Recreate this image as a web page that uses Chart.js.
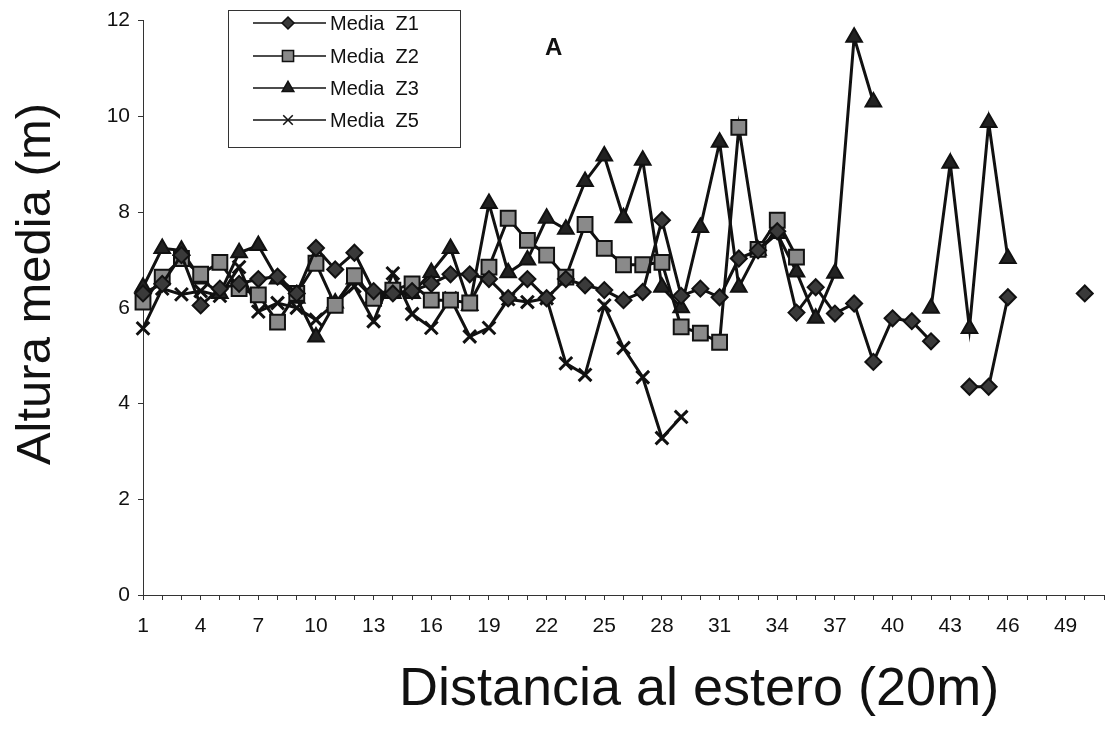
<!DOCTYPE html>
<html>
<head>
<meta charset="utf-8">
<script src="https://cdn.jsdelivr.net/npm/chart.js@4/dist/chart.umd.min.js"></script>
<style>
  body { margin: 0; background: #fff; }
  #wrap { width: 1118px; height: 730px; }
</style>
</head>
<body>
<div id="wrap"><canvas id="c" width="1118" height="730"></canvas></div>
<script>
// distancia al estero (categorias 1..51)
const categorias = [1,2,3,4,5,6,7,8,9,10,11,12,13,14,15,16,17,18,19,20,21,22,23,24,25,26,27,28,29,30,
  31,32,33,34,35,36,37,38,39,40,41,42,43,44,45,46,47,48,49,50,51];

const mediaZ1 = [6.3,6.5,7.1,6.05,6.4,6.5,6.6,6.65,6.3,7.25,6.8,7.15,6.35,6.3,6.35,6.5,6.7,6.7,6.6,6.2,
  6.6,6.2,6.6,6.47,6.37,6.16,6.33,7.83,6.25,6.4,6.22,7.03,7.2,7.6,5.9,6.43,5.88,6.09,4.87,5.78,
  5.72,5.3,null,4.35,4.35,6.22,null,null,null,6.3,null];
const mediaZ2 = [6.12,6.64,7.03,6.7,6.95,6.4,6.27,5.7,6.3,6.93,6.05,6.67,6.2,6.37,6.5,6.16,6.16,6.1,6.85,7.87,
  7.41,7.1,6.64,7.74,7.24,6.9,6.9,6.95,5.6,5.47,5.28,9.77,7.22,7.83,7.06];
const mediaZ3 = [6.43,7.24,7.2,6.6,6.3,7.15,7.3,6.6,6.2,5.39,6.1,6.6,6.2,6.3,6.3,6.74,7.24,6.05,8.18,6.73,
  7.0,7.87,7.64,8.64,9.17,7.88,9.08,6.43,6.0,7.68,9.46,6.43,7.2,7.55,6.75,5.78,6.72,11.65,10.3,null,
  null,5.99,9.02,5.57,9.87,7.03];
const mediaZ5 = [5.57,6.4,6.28,6.35,6.25,6.85,5.92,6.1,6.0,5.75,6.1,6.45,5.72,6.72,5.87,5.58,6.2,5.4,5.58,6.18,
  6.12,6.2,4.84,4.6,6.05,5.16,4.55,3.28,3.72];

const yTicks = [0,2,4,6,8,10,12];

const FONT = '"Liberation Sans", Arial, sans-serif';

function serie(label, data, style, radius, fill, bw) {
  return {
    label, data,
    borderColor: '#111', borderWidth: 3,
    pointStyle: style, pointRadius: radius, pointHoverRadius: radius,
    pointBackgroundColor: fill, pointBorderColor: '#111', pointBorderWidth: bw,
    spanGaps: false, tension: 0
  };
}

const datasets = [
  serie('Media  Z1', mediaZ1, 'rectRot', 8, '#3a3a3a', 2),
  serie('Media  Z2', mediaZ2, 'rect', 10.5, '#8a8a8a', 2),
  serie('Media  Z3', mediaZ3, 'triangle', 9, '#222', 2),
  serie('Media  Z5', mediaZ5, 'crossRot', 9, '#111', 3),
];

// legend box, "A" label and axis titles
const extras = {
  id: 'extras',
  afterDraw(chart) {
    const ctx = chart.ctx;
    ctx.save();
    ctx.strokeStyle = '#333';
    ctx.lineWidth = 1;
    ctx.strokeRect(228.5, 10.5, 232, 137);
    ctx.font = '20px ' + FONT;
    ctx.textBaseline = 'middle';
    const rows = [23, 56, 88, 120];
    chart.data.datasets.forEach((ds, i) => {
      const y = rows[i];
      ctx.strokeStyle = '#111';
      ctx.lineWidth = 1.5;
      ctx.beginPath();
      ctx.moveTo(253, y); ctx.lineTo(326, y);
      ctx.stroke();
      ctx.fillStyle = ds.pointBackgroundColor;
      ctx.strokeStyle = '#111';
      Chart.helpers.drawPoint(ctx, {
        pointStyle: ds.pointStyle, radius: ds.pointRadius * 0.75,
        rotation: 0, borderWidth: 1.5
      }, 288, y);
      ctx.fillStyle = '#111';
      ctx.fillText(ds.label, 330, y + 1);
    });
    ctx.font = 'bold 24px ' + FONT;
    ctx.fillText('A', 545, 48);
    ctx.textAlign = 'center';
    ctx.font = '54px ' + FONT;
    ctx.fillText('Distancia al estero (20m)', 699, 690);
    ctx.translate(36, 284);
    ctx.rotate(-Math.PI / 2);
    ctx.font = '49px ' + FONT;
    ctx.fillText('Altura media (m)', 0, 0);
    ctx.restore();
  }
};

new Chart(document.getElementById('c'), {
  type: 'line',
  data: { labels: categorias, datasets },
  plugins: [extras],
  options: {
    responsive: false,
    animation: false,
    layout: { padding: { top: 10, right: 4, bottom: 12, left: 0 } },
    plugins: { legend: { display: false }, tooltip: { enabled: false } },
    scales: {
      x: {
        type: 'category',
        offset: false,
        afterFit: s => { s.height = 123; },
        grid: { drawOnChartArea: false, tickLength: 5, color: '#333' },
        border: { color: '#333', width: 1 },
        ticks: {
          autoSkip: false, maxRotation: 0, padding: 14,
          color: '#111', font: { family: FONT, size: 21 },
          callback: (v, i) => (i % 3 === 0 && i < 49) ? categorias[i] : ''
        }
      },
      y: {
        min: 0, max: 12,
        afterFit: s => { s.width = 143; },
        afterBuildTicks: s => { s.ticks = yTicks.map(v => ({ value: v })); },
        grid: { drawOnChartArea: false, tickLength: 5, color: '#333' },
        border: { color: '#333', width: 1 },
        ticks: { padding: 8, color: '#111', font: { family: FONT, size: 21 } }
      }
    }
  }
});
</script>
</body>
</html>
